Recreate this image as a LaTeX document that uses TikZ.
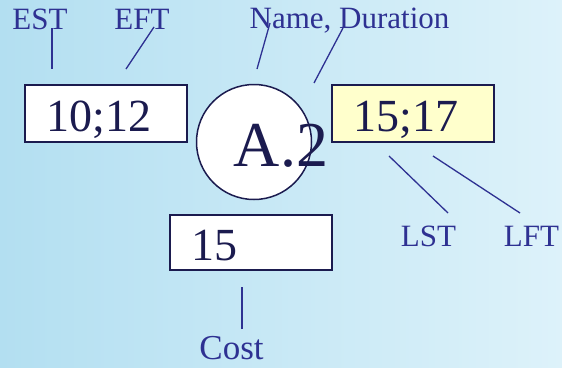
\documentclass[tikz,border=0pt]{standalone}
\usepackage{fontspec}
\setmainfont{Liberation Serif}
\definecolor{tagblue}{HTML}{2E3192}
\definecolor{inknavy}{HTML}{1B1B4F}
\definecolor{bgblue}{HTML}{B3DFF1}
\definecolor{bglight}{HTML}{DDF2FA}
\definecolor{lateyellow}{HTML}{FFFFCC}
\tikzset{
  timebox/.style={draw=inknavy, line width=1.6pt, fill=white, text=inknavy,
    font=\fontsize{46}{46}\selectfont, anchor=north west, align=left,
    text width=118pt, inner xsep=22pt, inner ysep=0pt,
    text height=38pt, text depth=2pt},
  tag/.style={text=tagblue, font=\fontsize{31}{31}\selectfont, anchor=base, inner sep=0pt},
  lead/.style={draw=tagblue, line width=1.3pt},
}
\begin{document}
\begin{tikzpicture}[x=1pt, y=-1pt]
  % Hintergrund
  \shade[left color=bgblue, right color=bglight] (0,0) rectangle (562,367);
  \useasboundingbox (0,0) rectangle (562,367);
  % Zeitfelder
  \node[timebox, minimum height=57.4pt] (early) at (24,84) {10;12};
  \node[timebox, minimum height=57.4pt, fill=lateyellow] (late) at (331,84) {15;17};
  \node[timebox, minimum height=55.4pt] (cost) at (169,214) {15};
  % Vorgangskreis
  \node[circle, draw=inknavy, line width=1.5pt, fill=white, minimum size=115pt, inner sep=0pt] (act) at (254,142) {};
  \node[text=inknavy, font=\fontsize{64}{64}\selectfont, anchor=base, inner sep=0pt] (actname) at (281,166) {A.2};
  % Beschriftungen
  \node[tag] (est) at (40,29) {EST};
  \node[tag] (eft) at (142,29) {EFT};
  \node[tag] (nd) at (349.5,28) {Name, Duration};
  \node[tag] (lst) at (428.5,246) {LST};
  \node[tag] (lft) at (531.5,246) {LFT};
  \node[tag, font=\fontsize{35}{35}\selectfont] (costtag) at (231.5,359) {Cost};
  % Hinweislinien
  \coordinate (estA) at (52,28);   \coordinate (estB) at (52,69);
  \coordinate (eftA) at (154,27);  \coordinate (eftB) at (126,69);
  \coordinate (nameA) at (270,23); \coordinate (nameB) at (257,69);
  \coordinate (durA) at (343,28);  \coordinate (durB) at (314,83);
  \coordinate (lstA) at (448,213); \coordinate (lstB) at (389,156);
  \coordinate (lftA) at (520,213); \coordinate (lftB) at (433,156);
  \coordinate (costA) at (242,329); \coordinate (costB) at (242,287);
  \draw[lead] (estA) -- (estB);
  \draw[lead] (eftA) -- (eftB);
  \draw[lead] (nameA) -- (nameB);
  \draw[lead] (durA) -- (durB);
  \draw[lead] (lstA) -- (lstB);
  \draw[lead] (lftA) -- (lftB);
  \draw[lead] (costA) -- (costB);
\end{tikzpicture}
\end{document}
